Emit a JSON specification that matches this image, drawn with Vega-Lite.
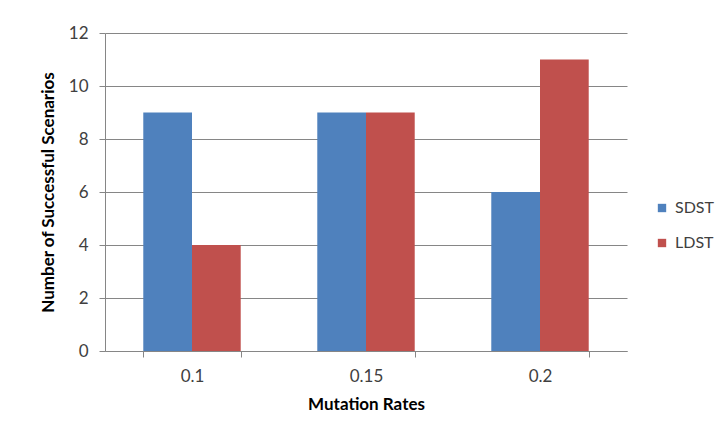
{
  "$schema": "https://vega.github.io/schema/vega-lite/v6.json",
  "width": 522,
  "height": 318,
  "autosize": "none",
  "padding": {"left": 105, "top": 33, "right": 97, "bottom": 86},
  "background": "white",
  "data": {
    "values": [
      {"rate": "0.1", "series": "SDST", "count": 9},
      {"rate": "0.1", "series": "LDST", "count": 4},
      {"rate": "0.15", "series": "SDST", "count": 9},
      {"rate": "0.15", "series": "LDST", "count": 9},
      {"rate": "0.2", "series": "SDST", "count": 6},
      {"rate": "0.2", "series": "LDST", "count": 11}
    ]
  },
  "config": {
    "font": "Lato",
    "view": {"stroke": null},
    "axis": {
      "domainColor": "#868686",
      "tickColor": "#868686",
      "gridColor": "#868686",
      "labelColor": "#404040",
      "labelFont": "Lato",
      "labelFontSize": 17,
      "titleFont": "Lato",
      "titleFontSize": 17,
      "titleFontWeight": "bold",
      "titleColor": "#000000",
      "tickSize": 6
    }
  },
  "mark": {"type": "bar"},
  "encoding": {
    "x": {
      "field": "rate",
      "type": "nominal",
      "sort": ["0.1", "0.15", "0.2"],
      "scale": {"paddingInner": 0.44, "paddingOuter": 0.22},
      "axis": {
        "title": "Mutation Rates",
        "labelAngle": 0,
        "tickBand": "extent",
        "grid": false,
        "labelPadding": 11,
        "titlePadding": 12
      }
    },
    "xOffset": {
      "field": "series",
      "type": "nominal",
      "sort": ["SDST", "LDST"],
      "scale": {"paddingInner": 0, "paddingOuter": 0}
    },
    "y": {
      "field": "count",
      "type": "quantitative",
      "scale": {"domain": [0, 12]},
      "axis": {
        "title": "Number of Successful Scenarios",
        "values": [0, 2, 4, 6, 8, 10, 12],
        "grid": true,
        "labelPadding": 11,
        "titlePadding": 11
      }
    },
    "color": {
      "field": "series",
      "type": "nominal",
      "sort": ["SDST", "LDST"],
      "scale": {"domain": ["SDST", "LDST"], "range": ["#4F81BD", "#C0504D"]},
      "legend": {
        "title": null,
        "orient": "none",
        "legendX": 549,
        "legendY": 167,
        "symbolType": "square",
        "symbolSize": 70,
        "symbolStrokeWidth": 0,
        "labelFont": "Lato",
        "labelFontSize": 16,
        "labelColor": "#404040",
        "rowPadding": 19,
        "labelOffset": 5
      }
    }
  }
}
